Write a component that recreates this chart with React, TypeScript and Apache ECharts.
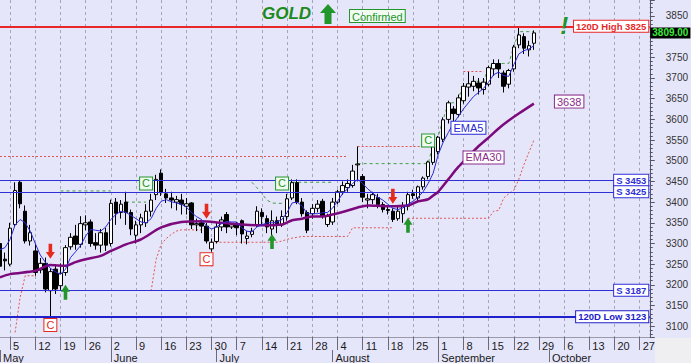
import React, { useEffect, useRef } from 'react';
import * as echarts from 'echarts';

const _ = null;
const FONT = 'Liberation Sans, Arial, sans-serif';

// ---- categories: every weekday shown on the axis ----
const START_DATE = '2025-05-01';
const END_DATE = '2025-10-29';
function weekdays(start: string, end: string): string[] {
  const out: string[] = [];
  const d = new Date(start + 'T00:00:00Z');
  const e = new Date(end + 'T00:00:00Z');
  while (d <= e) {
    const w = d.getUTCDay();
    if (w !== 0 && w !== 6) out.push(d.toISOString().slice(0, 10));
    d.setUTCDate(d.getUTCDate() + 1);
  }
  return out;
}
const categories = weekdays(START_DATE, END_DATE);
const MONTH_NAMES = ['January', 'February', 'March', 'April', 'May', 'June', 'July', 'August', 'September', 'October', 'November', 'December'];

// ---- candles [open, close, low, high] ----
const ohlc: number[][] = [
  [3300, 3245, 3215, 3310], [3262, 3258, 3235, 3278], [3250, 3337, 3245, 3350], [3346, 3428, 3340, 3448], [3448, 3396, 3385, 3452],
  [3378, 3306, 3300, 3392], [3306, 3326, 3295, 3345], [3282, 3230, 3222, 3300], [3236, 3252, 3228, 3265], [3252, 3190, 3182, 3266],
  [3186, 3232, 3123, 3240], [3238, 3190, 3178, 3250], [3198, 3228, 3188, 3252], [3230, 3290, 3222, 3296], [3292, 3315, 3285, 3325],
  [3318, 3298, 3285, 3345], [3298, 3348, 3290, 3366], [3345, 3350, 3332, 3368], [3352, 3300, 3292, 3358], [3302, 3296, 3285, 3325],
  [3296, 3326, 3278, 3335], [3326, 3296, 3282, 3338], [3300, 3397, 3293, 3406], [3400, 3373, 3345, 3410], [3375, 3395, 3360, 3405],
  [3400, 3375, 3345, 3425], [3375, 3335, 3320, 3382], [3320, 3345, 3300, 3355], [3345, 3362, 3325, 3372], [3350, 3378, 3340, 3395],
  [3378, 3405, 3365, 3420], [3418, 3455, 3405, 3466], [3470, 3423, 3415, 3479], [3420, 3410, 3398, 3432], [3410, 3405, 3385, 3425],
  [3400, 3406, 3380, 3415], [3405, 3395, 3370, 3420], [3390, 3396, 3370, 3410], [3398, 3345, 3335, 3400], [3345, 3348, 3330, 3360],
  [3350, 3342, 3325, 3358], [3342, 3306, 3300, 3350], [3287, 3303, 3280, 3312], [3305, 3340, 3300, 3350], [3340, 3357, 3330, 3365],
  [3370, 3340, 3325, 3376], [3340, 3345, 3335, 3350], [3345, 3338, 3320, 3352], [3355, 3323, 3300, 3358], [3312, 3318, 3298, 3330],
  [3322, 3330, 3315, 3338], [3345, 3378, 3340, 3390], [3375, 3365, 3345, 3385], [3360, 3340, 3325, 3368], [3335, 3355, 3310, 3380],
  [3355, 3345, 3325, 3365], [3345, 3365, 3340, 3380], [3365, 3408, 3355, 3420], [3410, 3447, 3405, 3455], [3447, 3400, 3395, 3455],
  [3400, 3372, 3365, 3410], [3375, 3332, 3325, 3380], [3372, 3385, 3360, 3395], [3385, 3395, 3375, 3405], [3402, 3366, 3360, 3408],
  [3346, 3366, 3340, 3372], [3352, 3400, 3345, 3410], [3400, 3425, 3395, 3430], [3425, 3440, 3418, 3450], [3435, 3445, 3425, 3455],
  [3440, 3475, 3435, 3490], [3490, 3492, 3450, 3535], [3462, 3412, 3400, 3468], [3405, 3408, 3385, 3420], [3406, 3418, 3395, 3425],
  [3411, 3394, 3385, 3420], [3394, 3382, 3375, 3400], [3382, 3380, 3370, 3392], [3378, 3358, 3352, 3385], [3360, 3378, 3355, 3392],
  [3372, 3392, 3350, 3400], [3390, 3418, 3380, 3425], [3420, 3416, 3408, 3430], [3410, 3437, 3402, 3440], [3437, 3458, 3430, 3462],
  [3462, 3497, 3455, 3500], [3496, 3534, 3490, 3540], [3522, 3557, 3515, 3560], [3552, 3599, 3545, 3605], [3600, 3640, 3590, 3645],
  [3625, 3614, 3590, 3632], [3612, 3652, 3605, 3660], [3645, 3680, 3638, 3688], [3678, 3686, 3655, 3715], [3680, 3692, 3668, 3705],
  [3688, 3676, 3660, 3700], [3672, 3690, 3660, 3700], [3685, 3725, 3680, 3730], [3722, 3735, 3705, 3745], [3735, 3722, 3700, 3745],
  [3712, 3680, 3665, 3718], [3685, 3718, 3675, 3722], [3722, 3775, 3715, 3780], [3780, 3804, 3772, 3825], [3800, 3772, 3758, 3808],
  [3768, 3778, 3752, 3790], [3784, 3809, 3768, 3815],
];

// ---- indicator lines ----
const ema5 = [
  3285, 3290, 3310, 3345, 3358, 3350, 3330, 3300, 3272, 3255,
  3240, 3232, 3225, 3238, 3266, 3280, 3295, 3318, 3334, 3332,
  3330, 3340, 3358, 3370, 3378, 3375, 3368, 3360, 3352, 3350,
  3360, 3385, 3402, 3406, 3401, 3398, 3395, 3388, 3375, 3365,
  3358, 3342, 3335, 3340, 3348, 3353, 3352, 3352, 3338, 3330,
  3328, 3340, 3345, 3350, 3350, 3352, 3358, 3375, 3398, 3400,
  3390, 3372, 3372, 3372, 3374, 3375, 3385, 3402, 3420, 3432,
  3445, 3455, 3445, 3432, 3422, 3412, 3405, 3395, 3385, 3382,
  3386, 3395, 3402, 3412, 3425, 3445, 3470, 3515, 3545, 3568,
  3590, 3607, 3625, 3640, 3655, 3665, 3675, 3690, 3708, 3714,
  3706, 3704, 3732, 3758, 3766, 3770, 3778,
];
const ema30 = [
  3218, _, 3226, _, _, _, _, 3234, _, _,
  3248, _, _, 3246, _, 3255, _, 3262, _, _,
  3270, _, 3282, _, _, 3298, _, _, 3310, _,
  _, _, 3339, _, _, _, 3352, _, _, _,
  3354, _, _, _, 3350, _, _, _, 3346, _,
  _, _, 3344, _, _, _, 3346, _, 3356, _,
  3360, _, 3365, _, 3365, _, 3370, _, 3376, _,
  _, 3387, _, 3392, _, _, _, 3390, _, _,
  _, 3392, _, 3402, _, 3407, 3416, 3425, _, 3455,
  _, 3485, _, 3510, _, 3535, _, 3556, _, 3578,
  _, 3597, _, 3614, _, _, 3638,
];
const stopLine = [
  _, _, _, 3085, 3170, 3222, 3222, 3222,
  _, _, _, _, _, _, _, _, _, _, _, _, _, _, _, _, _, _, _, _, _, _,
  3185, 3262, 3298, 3312, 3322, 3330, 3333, 3333, 3333, 3333, 3333,
  _,
  3303, 3303, 3303, 3303, 3303, 3303, 3303, 3303, 3303, 3303, 3303, 3303, 3303, 3303,
  3306, 3310, 3313, 3315,
  3317, 3317, 3317, 3317, 3317, 3317, 3317, 3317, 3317, 3317,
  3338, 3338, 3338, 3338, 3338, 3338, 3338, 3338, 3338,
  _, _,
  3361, 3361, 3361, 3361, 3361, 3361, 3361, 3361, 3361, 3361, 3361, 3361, 3361, 3361, 3361, 3361, 3361,
  3378, 3380, 3410, 3420, 3428, 3455, 3490, 3520, 3550,
];
const trailLine = [
  _, _, _, _, _, _, _, _, _, _, _, _,
  3427, 3427, 3427, 3427, 3427, 3427, 3427, 3427, 3427, 3427, 3427,
  _, _,
  3400, 3400, 3400, 3400, 3400,
  _, _, _, _, _, _, _, _, _, _, _, _, _, _, _, _, _, _, _, _,
  3448, 3435, 3420, 3405, 3398, 3397, 3397,
  _,
  3448, 3448, 3448, 3448, 3448, 3448, 3448, 3448, 3448,
  _, _, _, _,
  3493, 3493, 3493, 3493, 3493, 3493, 3493, 3493, 3493, 3493, 3493, 3493, 3493, 3493, 3493,
  3540, 3560, 3600, 3640, 3640, 3652, 3680, 3686, 3692, 3692, 3692, 3725, 3735, 3735, 3735, 3735, 3775, 3812, 3812, 3812, 3812,
];

// ---- levels ----
const levelValues = [3825, 3453, 3425, 3187, 3123];
const levelLabels = ['120D High 3825', 'S 3453', 'S 3425', 'S 3187', '120D Low 3123'];
const levelColors = ['#e82828', '#2f2fd8', '#2f2fd8', '#2f2fd8', '#2020cc'];
const levelWidths = [2, 1, 1, 1, 2];
// dotted resistance segments [startIndex, endIndex, value]
const resistSegments = [[0, 69, 3510], [71, 84, 3535], [92, 96, 3717]];
const lastPrice = 3809;
const ema30Last = 3638;

// ---- signals [index, value] ----
const downArrows = [[10, 3281], [41, 3378], [78, 3414]];
const upArrows = [[13, 3182], [54, 3305], [81, 3344]];
const redC = [[10, 3103], [41, 3262]];
const greenC = [[29, 3445], [56, 3445], [85, 3549]];

const mondayIdx = new Set<number>();
const monthStartIdx = new Set<number>();
categories.forEach((c, i) => {
  if (new Date(c + 'T00:00:00Z').getUTCDay() === 1) mondayIdx.add(i);
  if (i === 0 || c.slice(5, 7) !== categories[i - 1].slice(5, 7)) monthStartIdx.add(i);
});

const RED = '#e52a1e';
const GREEN = '#22962a';
const DOWN_PATH = 'path://M3,0L7,0L7,7L10,7L5,13L0,7L3,7Z';
const UP_PATH = 'path://M5,0L10,6L7,6L7,13L3,13L3,6L0,6Z';

function boxLabel(text: string, color: string, extra: any = {}) {
  return {
    show: true,
    position: 'inside',
    formatter: text,
    color,
    fontSize: 11,
    fontFamily: FONT,
    backgroundColor: '#ffffff',
    borderColor: color,
    borderWidth: 1,
    padding: [1, 2, 0, 2],
    ...extra,
  };
}
function labelPoint(i: number, v: number, label: any) {
  return {
    coord: [categories[i], v],
    symbol: 'rect',
    symbolSize: 1,
    itemStyle: { color: 'rgba(0,0,0,0)' },
    label,
  };
}

const lastCat = categories.length - 1;

const option: any = {
  animation: false,
  backgroundColor: '#e6e6fa',
  textStyle: { fontFamily: FONT },
  title: {
    text: 'GOLD',
    left: 262,
    top: 5,
    padding: 0,
    textStyle: { fontSize: 17, fontStyle: 'italic', fontWeight: 'bold', color: '#1c8a1c', fontFamily: FONT },
  },
  grid: { left: -1.15, top: 0, width: 656.15, height: 338 },
  xAxis: [
    {
      type: 'category',
      data: categories,
      boundaryGap: false,
      position: 'bottom',
      axisLine: { show: true, lineStyle: { color: '#9a9aaa' } },
      axisTick: { show: true, interval: (i: number) => mondayIdx.has(i), length: 13, lineStyle: { color: '#6a6a7a' } },
      axisLabel: {
        interval: (i: number) => mondayIdx.has(i),
        formatter: (v: string) => String(parseInt(v.slice(8, 10), 10)),
        align: 'left',
        padding: [0, 0, 0, 3],
        margin: 3,
        fontSize: 11,
        color: '#1a1a1a',
        fontFamily: FONT,
      },
      splitLine: { show: true, interval: (i: number) => mondayIdx.has(i), lineStyle: { color: '#a6a6ba', type: [3, 3], width: 1 } },
    },
    {
      type: 'category',
      data: categories,
      boundaryGap: false,
      position: 'bottom',
      offset: 13,
      axisLine: { show: false },
      axisTick: { show: true, interval: (i: number) => monthStartIdx.has(i), length: 12, lineStyle: { color: '#6a6a7a' } },
      axisLabel: {
        interval: (i: number) => monthStartIdx.has(i),
        formatter: (v: string) => MONTH_NAMES[parseInt(v.slice(5, 7), 10) - 1],
        align: 'left',
        padding: [0, 0, 0, 3],
        margin: 2,
        fontSize: 11,
        color: '#1a1a1a',
        fontFamily: FONT,
      },
      splitLine: { show: false },
    },
  ],
  yAxis: {
    type: 'value',
    position: 'right',
    min: 3074,
    max: 3888.5,
    splitNumber: 16,
    axisLine: { show: true, lineStyle: { color: '#555566' } },
    axisTick: { show: true, length: 5, lineStyle: { color: '#555566' } },
    minorTick: { show: true, splitNumber: 5, length: 3, lineStyle: { color: '#555566' } },
    axisLabel: {
      fontSize: 10,
      color: '#333',
      margin: 16,
      showMinLabel: false,
      showMaxLabel: false,
      fontFamily: FONT,
      // the last-price tag covers the tick label next to it
      formatter: (v: number) => (Math.abs(v - lastPrice) < 25 ? '' : String(v)),
    },
    splitLine: { show: false },
  },
  graphic: [
    {
      type: 'polygon',
      shape: { points: [[328, 4], [336, 13], [331.5, 13], [331.5, 24], [324.5, 24], [324.5, 13], [320, 13]] },
      style: { fill: GREEN },
    },
    {
      type: 'text',
      x: 350,
      y: 10,
      style: {
        text: 'Confirmed',
        fill: GREEN,
        fontSize: 11,
        fontFamily: FONT,
        backgroundColor: '#f2fbf2',
        borderColor: GREEN,
        borderWidth: 1,
        padding: [1, 2, 0, 2],
      },
    },
    { type: 'rect', shape: { x: 655, y: 338, width: 40, height: 30 }, style: { fill: '#efeff2' } },
  ],
  series: [
    {
      type: 'candlestick',
      data: ohlc,
      barWidth: 4,
      z: 4,
      itemStyle: { color: '#ffffff', color0: '#000000', borderColor: '#000000', borderColor0: '#000000', borderWidth: 1 },
    },
    {
      type: 'line',
      data: stopLine,
      symbol: 'none',
      z: 3,
      lineStyle: { color: '#e25555', width: 1, type: [2, 2] },
      markLine: {
        silent: true,
        symbol: ['none', 'none'],
        label: { show: false },
        lineStyle: { color: '#e25555', width: 1, type: [2, 2] },
        data: resistSegments.map(([a, b, v]) => [
          { coord: [categories[a], v] },
          { coord: [categories[b], v] },
        ]),
      },
    },
    {
      type: 'line',
      data: trailLine,
      symbol: 'none',
      z: 3,
      lineStyle: { color: '#3c9c3c', width: 1, type: [3, 3] },
      markLine: {
        silent: true,
        symbol: ['none', 'none'],
        label: { show: false },
        data: levelValues.map((v, k) => ({ yAxis: v, lineStyle: { color: levelColors[k], width: levelWidths[k], type: 'solid' } })),
      },
      markPoint: {
        silent: true,
        z: 10,
        data: [
          ...levelValues.map((v, k) =>
            labelPoint(lastCat, v, boxLabel(levelLabels[k], levelColors[k], { position: 'left', distance: 1, fontSize: 9.5, fontWeight: 'bold' }))
          ),
          labelPoint(lastCat, lastPrice, {
            show: true,
            position: 'right',
            distance: 0,
            formatter: lastPrice.toFixed(2),
            color: '#3ee83e',
            fontSize: 10,
            fontWeight: 'bold',
            fontFamily: FONT,
            backgroundColor: '#000000',
            padding: [1, 2, 0, 2],
          }),
        ],
      },
    },
    {
      type: 'line',
      data: ema30,
      connectNulls: true,
      smooth: 0.3,
      symbol: 'none',
      z: 5,
      lineStyle: { color: '#7c0a7c', width: 2.5 },
      markPoint: {
        silent: true,
        z: 10,
        data: [
          labelPoint(96, 3508, boxLabel('EMA30', '#8a2a8a')),
          labelPoint(113, 3643, boxLabel(String(ema30Last), '#8a2a8a')),
          labelPoint(112, 3826, { show: true, position: 'inside', formatter: '!', color: GREEN, fontSize: 24, fontWeight: 'bold', fontStyle: 'italic', fontFamily: FONT }),
        ],
      },
    },
    {
      type: 'line',
      data: ema5,
      symbol: 'none',
      z: 6,
      lineStyle: { color: '#2a2ad6', width: 1 },
      markPoint: {
        silent: true,
        z: 10,
        data: [
          labelPoint(93, 3580, boxLabel('EMA5', '#2a2ad6')),
          ...downArrows.map(([i, v]) => ({ coord: [categories[i], v], symbol: DOWN_PATH, symbolSize: [9, 15], itemStyle: { color: RED }, label: { show: false } })),
          ...upArrows.map(([i, v]) => ({ coord: [categories[i], v], symbol: UP_PATH, symbolSize: [9, 15], itemStyle: { color: GREEN }, label: { show: false } })),
          ...redC.map(([i, v]) => labelPoint(i, v, boxLabel('C', RED))),
          ...greenC.map(([i, v]) => labelPoint(i, v, boxLabel('C', GREEN, { backgroundColor: '#f0fbf0' }))),
        ],
      },
    },
  ],
};

export default function App() {
  const ref = useRef<HTMLDivElement>(null);
  useEffect(() => {
    if (!ref.current) return;
    const chart = echarts.init(ref.current, undefined, { renderer: 'svg' });
    chart.setOption(option);
    return () => chart.dispose();
  }, []);
  return (
    <div
      ref={ref}
      style={{ position: 'fixed', left: 0, top: 0, width: 691, height: 363, background: '#e6e6fa' }}
    />
  );
}
